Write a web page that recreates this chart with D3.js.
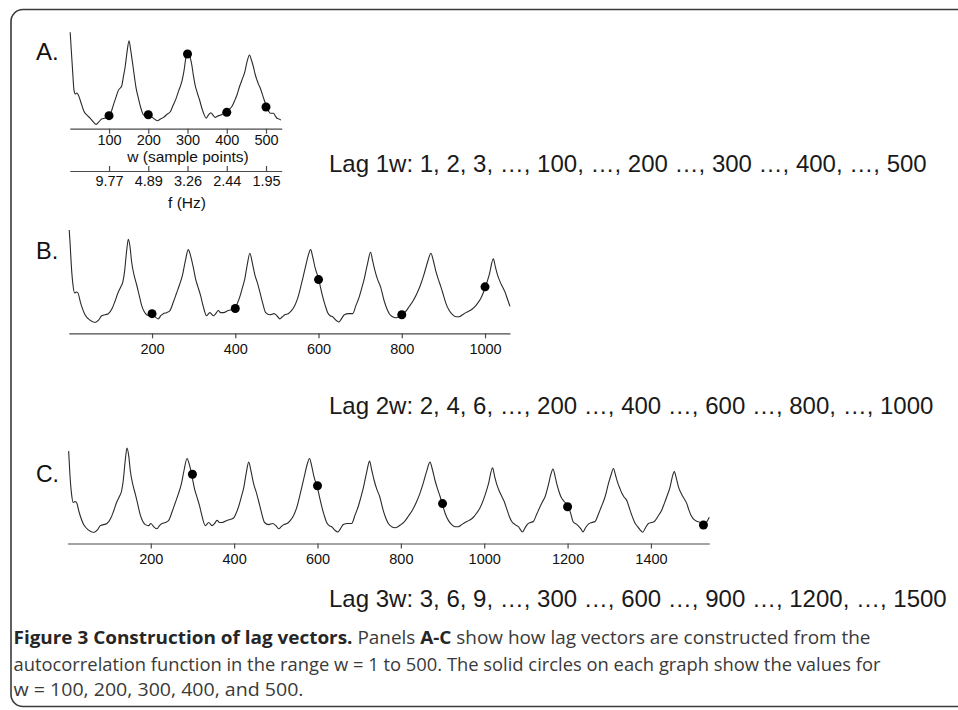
<!DOCTYPE html>
<html>
<head>
<meta charset="utf-8">
<script src="https://cdn.jsdelivr.net/npm/d3@7"></script>
<style>
  body { margin: 0; background: #fff; }
  svg text { font-family: "Liberation Sans", Arial, sans-serif; }
  .axis path, .axis line { stroke: #4a4a4a; stroke-width: 1.2; }
  .axis text { fill: #111; }
  .caption { font-family: "Open Sans", "Noto Sans", sans-serif !important; font-size: 18px; }
</style>
</head>
<body>
<div id="chart"></div>
<script>

const acf = [
  [1, 1.00], [3, 0.88], [6, 0.66], [10, 0.47], [14, 0.39], [18, 0.40], [22, 0.39], [28, 0.30],
  [39, 0.18], [50, 0.13], [63, 0.105], [72, 0.13], [79, 0.17], [95, 0.19], [104, 0.24], [111, 0.31],
  [118, 0.39], [125, 0.45], [130, 0.50], [134, 0.60], [139, 0.80], [143, 0.91], [147, 0.84], [151, 0.69],
  [157, 0.56], [163, 0.47], [169, 0.37], [175, 0.27], [181, 0.21], [187, 0.18], [195, 0.17], [200, 0.19],
  [207, 0.16], [215, 0.14], [221, 0.17], [227, 0.19], [235, 0.20], [243, 0.22], [251, 0.30], [259, 0.39],
  [266, 0.47], [273, 0.56], [280, 0.70], [287, 0.81], [292, 0.76], [299, 0.64], [305, 0.52], [311, 0.44],
  [317, 0.36], [323, 0.26], [331, 0.17], [339, 0.20], [347, 0.17], [353, 0.19], [359, 0.22], [365, 0.20],
  [371, 0.20], [383, 0.22], [398, 0.24], [405, 0.29], [411, 0.355], [417, 0.44], [423, 0.53], [429, 0.67],
  [435, 0.775], [441, 0.68], [447, 0.565], [453, 0.49], [459, 0.40], [466, 0.29], [473, 0.20], [483, 0.18],
  [493, 0.19], [500, 0.17], [507, 0.14], [513, 0.16], [519, 0.18], [527, 0.19], [535, 0.22], [543, 0.27],
  [550, 0.34], [556, 0.43], [562, 0.53], [569, 0.65], [575, 0.75], [581, 0.81], [586, 0.74], [592, 0.63],
  [600, 0.53], [605, 0.44], [610, 0.355], [616, 0.27], [622, 0.20], [628, 0.17], [634, 0.16], [641, 0.13],
  [649, 0.11], [655, 0.14], [662, 0.18], [672, 0.19], [682, 0.19], [690, 0.27], [698, 0.355], [704, 0.44],
  [710, 0.53], [718, 0.68], [725, 0.785], [730, 0.70], [736, 0.60], [742, 0.52], [749, 0.45], [758, 0.31],
  [764, 0.24], [770, 0.19], [778, 0.16], [786, 0.15], [793, 0.16], [800, 0.18], [809, 0.21], [818, 0.26],
  [828, 0.32], [838, 0.40], [846, 0.48], [853, 0.565], [862, 0.69], [870, 0.775], [876, 0.70], [882, 0.60],
  [888, 0.52], [894, 0.45], [900, 0.37], [906, 0.29], [914, 0.22], [922, 0.18], [930, 0.16], [938, 0.16],
  [946, 0.18], [954, 0.20], [964, 0.22], [974, 0.25], [982, 0.29], [990, 0.34], [1002, 0.46], [1010, 0.565],
  [1020, 0.72], [1025, 0.64], [1030, 0.565], [1036, 0.50], [1042, 0.45], [1048, 0.40], [1054, 0.33], [1060, 0.26],
  [1066, 0.21], [1074, 0.18], [1082, 0.16], [1092, 0.11], [1098, 0.15], [1104, 0.185], [1111, 0.20], [1118, 0.21],
  [1126, 0.28], [1134, 0.35], [1140, 0.40], [1146, 0.445], [1154, 0.56], [1160, 0.66], [1165, 0.71], [1170, 0.64],
  [1174, 0.57], [1179, 0.50], [1184, 0.445], [1192, 0.40], [1202, 0.35], [1208, 0.28], [1213, 0.21], [1224, 0.176],
  [1232, 0.14], [1237, 0.11], [1243, 0.15], [1250, 0.185], [1258, 0.20], [1266, 0.21], [1272, 0.26], [1278, 0.32],
  [1284, 0.38], [1290, 0.445], [1298, 0.57], [1304, 0.65], [1310, 0.715], [1315, 0.65], [1321, 0.57], [1326, 0.52],
  [1330, 0.48], [1336, 0.44], [1342, 0.41], [1348, 0.34], [1354, 0.27], [1361, 0.20], [1368, 0.16], [1374, 0.13],
  [1380, 0.107], [1387, 0.15], [1394, 0.19], [1401, 0.20], [1408, 0.21], [1417, 0.26], [1426, 0.32], [1432, 0.38],
  [1438, 0.445], [1446, 0.54], [1451, 0.63], [1456, 0.685], [1461, 0.62], [1466, 0.54], [1471, 0.49], [1477, 0.445],
  [1486, 0.38], [1491, 0.32], [1496, 0.27], [1506, 0.22], [1512, 0.21], [1518, 0.20], [1526, 0.176], [1533, 0.20],
  [1540, 0.25]
];

// panel A is drawn at its own scale in the figure, read separately
const acfA = [
  [1, 1.0], [4, 0.80], [7, 0.61], [10.7, 0.40], [14, 0.36], [18, 0.37], [21.7, 0.35], [27.8, 0.28],
  [36, 0.18], [44, 0.14], [51.6, 0.11], [60, 0.07], [67, 0.045], [74, 0.07], [81, 0.10], [90, 0.11],
  [100, 0.135], [106, 0.18], [111, 0.245], [118, 0.33], [124, 0.40], [132, 0.44], [137, 0.55], [141, 0.64],
  [146, 0.80], [151, 0.913], [155, 0.82], [160, 0.68], [165, 0.53], [169, 0.42], [174, 0.33], [179, 0.245],
  [189, 0.14], [200, 0.14], [206, 0.13], [213, 0.11], [223, 0.083], [231, 0.10], [239, 0.118], [248, 0.15],
  [256, 0.176], [263, 0.24], [271, 0.315], [278, 0.40], [285.6, 0.49], [291, 0.60], [296, 0.74], [302, 0.80],
  [306, 0.75], [311, 0.66], [315, 0.55], [319.5, 0.45], [325, 0.37], [330.6, 0.30], [336, 0.22], [341, 0.16],
  [347.6, 0.11], [353, 0.14], [359.6, 0.166], [365, 0.14], [370.6, 0.118], [376, 0.13], [383, 0.14], [391, 0.155],
  [398.7, 0.17], [406, 0.20], [413, 0.23], [420, 0.29], [426, 0.35], [432, 0.43], [438.7, 0.505], [446, 0.59],
  [452, 0.70], [458, 0.765], [463, 0.71], [468, 0.64], [472, 0.57], [477, 0.505], [481, 0.46], [485.5, 0.42],
  [494, 0.315], [502.5, 0.22], [507, 0.18], [511, 0.16], [519, 0.16], [524, 0.13], [528, 0.108], [533, 0.10],
  [538, 0.09]
];

// solid circles
const dotsA = [[100, 0.135], [200, 0.145], [300, 0.775], [400, 0.17], [500, 0.225]];
const dotsB = [[200, 0.19], [400, 0.24], [600, 0.52], [800, 0.18], [1000, 0.45]];
const dotsC = [[300, 0.66], [600, 0.55], [900, 0.38], [1200, 0.35], [1526, 0.176]];

// tick labels
const ticksA = [100, 200, 300, 400, 500];
const freqLabels = ['9.77', '4.89', '3.26', '2.44', '1.95'];
const ticksB = [200, 400, 600, 800, 1000];
const ticksC = [200, 400, 600, 800, 1000, 1200, 1400];

const lagTexts = [
  'Lag 1w: 1, 2, 3, …, 100, …, 200 …, 300 …, 400, …, 500',
  'Lag 2w: 2, 4, 6, …, 200 …, 400 …, 600 …, 800, …, 1000',
  'Lag 3w: 3, 6, 9, …, 300 …, 600 …, 900 …, 1200, …, 1500'
];

const W = 958, H = 710;

const svg = d3.select('#chart').append('svg')
  .attr('width', W)
  .attr('height', H);

// frame
svg.append('rect')
  .attr('x', 11).attr('y', 9.5)
  .attr('width', 990).attr('height', 697)
  .attr('rx', 12).attr('ry', 12)
  .attr('fill', 'none')
  .attr('stroke', '#3a3a3a')
  .attr('stroke-width', 1.6);

const panels = [
  { name: 'A.', data: acfA, dots: dotsA, ticks: ticksA, wMax: 540, x0: 69.8, x1: 281.7,
    yBase: 128.7, yTop: 32.3, tickPad: 1, labelX: 36, labelY: 60, labelSize: 24 },
  { name: 'B.', data: acf.filter(d => d[0] <= 1060), dots: dotsB, ticks: ticksB, wMax: 1060, x0: 68.8, x1: 510,
    yBase: 333.3, yTop: 230, tickPad: 5.5, labelX: 36, labelY: 259, labelSize: 23.5 },
  { name: 'C.', data: acf.filter(d => d[0] >= 3), dots: dotsC, ticks: ticksC, wMax: 1540, x0: 67.4, x1: 709.3,
    yBase: 543.5, yTop: 438.5, tickPad: 5.5, labelX: 36, labelY: 482, labelSize: 23 }
];

const line = d3.line().curve(d3.curveMonotoneX);

panels.forEach(p => {
  const x = d3.scaleLinear().domain([0, p.wMax]).range([p.x0, p.x1]);
  const y = d3.scaleLinear().domain([0, 1]).range([p.yBase, p.yTop]);

  const g = svg.append('g').attr('class', 'panel');

  const axis = g.append('g')
    .attr('class', 'axis')
    .attr('transform', `translate(0, ${p.yBase})`)
    .call(d3.axisBottom(x).tickValues(p.ticks).tickSize(5).tickSizeOuter(0)
      .tickPadding(p.tickPad).tickFormat(d3.format('d')));
  axis.selectAll('text').style('font-size', '14.5px');

  line.x(d => x(d[0])).y(d => y(d[1]));
  g.append('path')
    .datum(p.data)
    .attr('fill', 'none')
    .attr('stroke', '#2a2a2a')
    .attr('stroke-width', 1.1)
    .attr('d', line);

  g.selectAll('.dot')
    .data(p.dots)
    .enter()
    .append('circle').attr('class', 'dot')
    .attr('cx', d => x(d[0]))
    .attr('cy', d => y(d[1]))
    .attr('r', 4.5)
    .attr('fill', '#000');

  g.append('text')
    .attr('x', p.labelX).attr('y', p.labelY)
    .style('font-size', p.labelSize + 'px')
    .attr('fill', '#111')
    .text(p.name);

  // panel A has an extra frequency axis under the w axis
  if (p.name === 'A.') {
    g.append('text')
      .attr('x', 188).attr('y', 162)
      .attr('text-anchor', 'middle')
      .style('font-size', '15.5px')
      .attr('fill', '#111')
      .text('w (sample points)');

    const fAxis = g.append('g')
      .attr('class', 'axis')
      .attr('transform', 'translate(0, 171)')
      .call(d3.axisBottom(x).tickValues(p.ticks).tickSize(-5).tickSizeOuter(0).tickPadding(5)
        .tickFormat((d, i) => freqLabels[i]));
    fAxis.selectAll('text').style('font-size', '14.5px');

    g.append('text')
      .attr('x', 187).attr('y', 208)
      .attr('text-anchor', 'middle')
      .style('font-size', '15.5px')
      .attr('fill', '#111')
      .text('f (Hz)');
  }
});

// lag vector descriptions
const lagY = [172, 414, 607];
svg.selectAll('.lag')
  .data(lagTexts)
  .enter()
  .append('text').attr('class', 'lag')
  .attr('x', 329)
  .attr('y', (d, i) => lagY[i])
  .style('font-size', '24px')
  .attr('fill', '#1a1a1a')
  .text(d => d);

// caption
const capLines = [
  { y: 644, len: 857, parts: [['Figure 3 Construction of lag vectors.', true], [' Panels ', false], ['A-C', true],
      [' show how lag vectors are constructed from the', false]] },
  { y: 671, len: 867, parts: [['autocorrelation function in the range w = 1 to 500. The solid circles on each graph show the values for', false]] },
  { y: 696, len: 290, parts: [['w = 100, 200, 300, 400, and 500.', false]] }
];

capLines.forEach(l => {
  const t = svg.append('text')
    .attr('class', 'caption')
    .attr('x', 13.5)
    .attr('y', l.y)
    .attr('textLength', l.len)
    .attr('lengthAdjust', 'spacingAndGlyphs');
  l.parts.forEach(pt => {
    t.append('tspan')
      .style('font-weight', pt[1] ? 700 : 400)
      .attr('fill', pt[1] ? '#262626' : '#3a3a3a')
      .text(pt[0]);
  });
});

</script>
</body>
</html>
